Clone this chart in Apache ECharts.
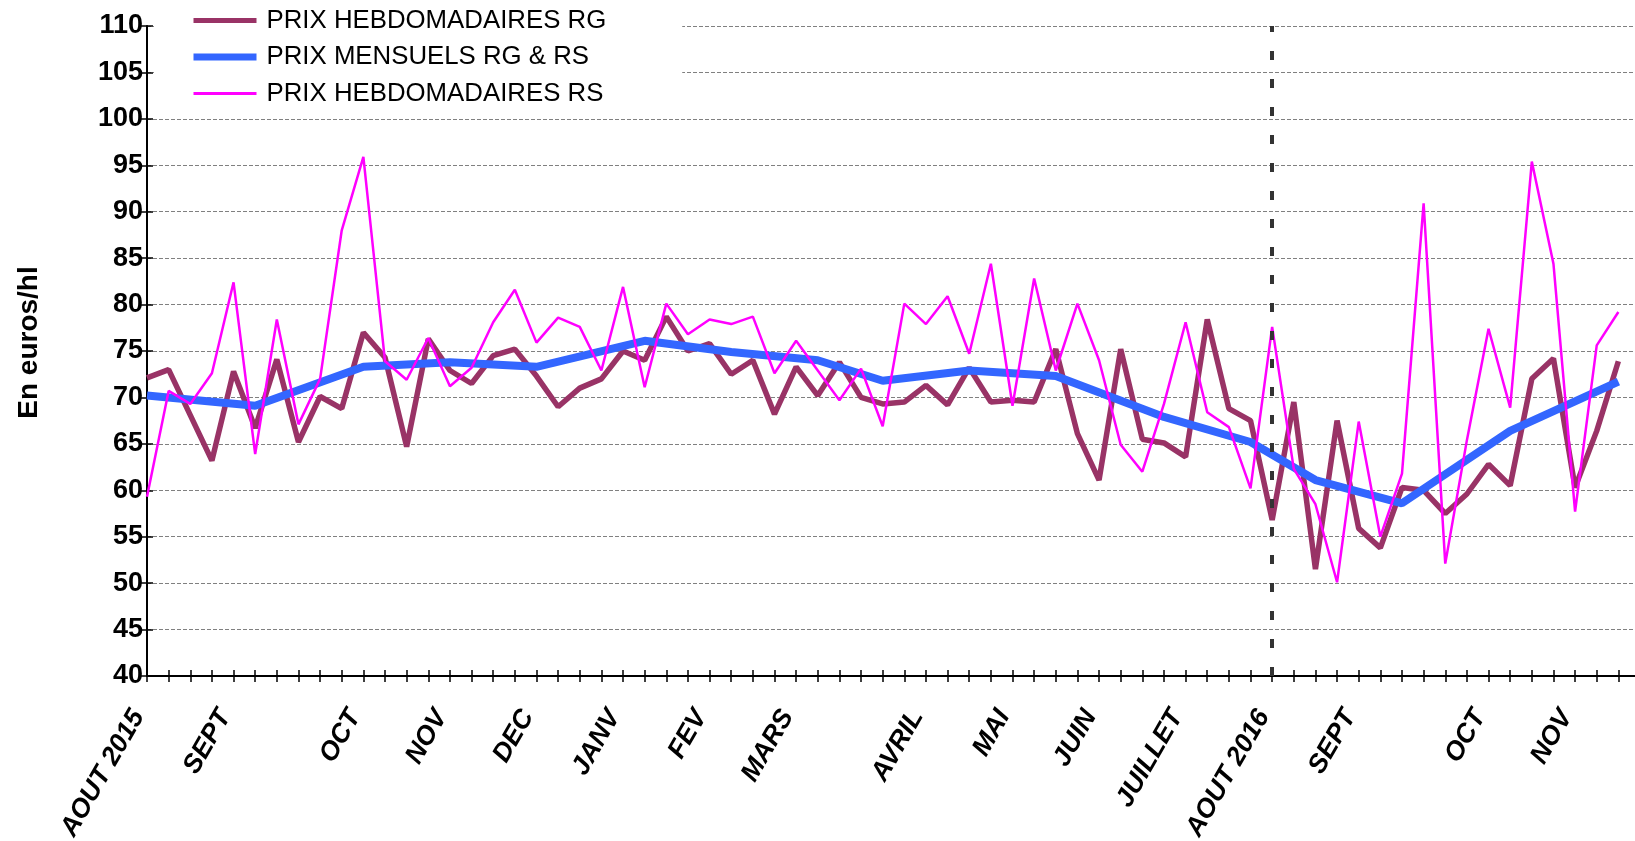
<!DOCTYPE html>
<html>
<head>
<meta charset="utf-8">
<script src="https://cdn.jsdelivr.net/npm/echarts@6/dist/echarts.min.js"></script>
<style>
  html, body { margin: 0; padding: 0; background: #fff; }
  #chart { width: 1635px; height: 841px; }
</style>
</head>
<body>
<div id="chart"></div>
<script>
// weekly prices, one value per week from Aug 2015 to Nov 2016 (69 weeks)
const rgWeekly = [
  72.1, 73.0, 68.1, 63.2, 72.8, 66.7, 74.1, 65.2, 70.1, 68.8,
  77.0, 74.3, 64.7, 76.3, 72.9, 71.5, 74.5, 75.2, 72.3, 69.0,
  71.0, 72.0, 75.0, 74.0, 78.7, 75.0, 75.8, 72.5, 74.0, 68.2,
  73.3, 70.2, 73.8, 70.0, 69.3, 69.5, 71.3, 69.2, 73.2, 69.5,
  69.7, 69.5, 75.2, 66.1, 61.1, 75.2, 65.5, 65.1, 63.6, 78.4,
  68.8, 67.5, 56.8, 69.5, 51.5, 67.5, 55.9, 53.8, 60.3, 60.0,
  57.5, 59.6, 62.8, 60.5, 72.0, 74.2, 60.3, 66.4, 73.9
];
const rsWeekly = [
  59.3, 70.7, 69.3, 72.6, 82.4, 63.9, 78.4, 67.1, 72.0, 88.0,
  95.9, 73.9, 71.9, 76.4, 71.2, 73.2, 78.1, 81.6, 75.9, 78.6,
  77.6, 72.9, 81.9, 71.1, 80.1, 76.8, 78.4, 77.9, 78.7, 72.6,
  76.1, 72.9, 69.7, 73.1, 66.9, 80.1, 77.9, 80.9, 74.7, 84.4,
  69.1, 82.8, 72.9, 80.1, 74.0, 64.9, 62.0, 69.3, 78.1, 68.4,
  66.8, 60.2, 77.6, 62.3, 58.5, 50.1, 67.4, 55.0, 61.8, 90.9,
  52.1, 65.4, 77.4, 68.9, 95.4, 84.4, 57.7, 75.6, 79.2
];
// monthly price (RG & RS), placed on the week it is plotted at
const monthlyWeek = [0, 5, 10, 14, 18, 23, 27, 31, 34, 38, 42, 47, 51, 54, 58, 63, 68];
const monthlyPrice = [70.2, 69.1, 73.3, 73.8, 73.3, 76.1, 74.9, 74.0, 71.8, 72.9, 72.3, 67.9, 65.2, 61.1, 58.6, 66.4, 71.7];

// axis labels
const labelWeek = [0, 4, 10, 14, 18, 22, 26, 30, 36, 40, 44, 48, 52, 56, 62, 66];
const labelText = ['AOUT 2015', 'SEPT', 'OCT', 'NOV', 'DEC', 'JANV', 'FEV', 'MARS',
  'AVRIL', 'MAI', 'JUIN', 'JUILLET', 'AOUT 2016', 'SEPT', 'OCT', 'NOV'];
const yearBreakWeek = 52;

const weekCount = rgWeekly.length + 1; // one spare slot so the axis runs to the edge
const weeks = [];
for (let i = 0; i < weekCount; i++) weeks.push(String(i));

const monthly = new Array(rgWeekly.length).fill(null);
monthlyWeek.forEach((w, k) => { monthly[w] = monthlyPrice[k]; });

const FONT = "'Liberation Sans', Arial, sans-serif";
const chart = echarts.init(document.getElementById('chart'));

const tickLabel = (val, idx) => {
  const k = labelWeek.indexOf(idx);
  return k >= 0 ? labelText[k] : '';
};

chart.setOption({
  animation: false,
  backgroundColor: '#fff',
  grid: { left: 147, right: -5, top: 26, bottom: 165, containLabel: false, outerBoundsMode: 'none' },
  legend: {
    orient: 'vertical',
    left: 154,
    top: 2,
    padding: [5.5, 76, 6, 36],
    backgroundColor: '#fff',
    itemWidth: 63,
    itemHeight: 14,
    itemGap: 10.5,
    itemStyle: { opacity: 0 },
    textStyle: { fontFamily: FONT, fontSize: 25.8, color: '#000', lineHeight: 25, padding: [0, 0, 0, 5] },
    data: [
      { name: 'PRIX HEBDOMADAIRES RG', lineStyle: { width: 5 } },
      { name: 'PRIX MENSUELS RG & RS', lineStyle: { width: 7 } },
      { name: 'PRIX HEBDOMADAIRES RS', lineStyle: { width: 3 } }
    ],
    z: 5
  },
  xAxis: [{
    type: 'category',
    data: weeks,
    boundaryGap: false,
    axisLine: { lineStyle: { color: '#000', width: 2 } },
    axisTick: { interval: 0, length: 6, lineStyle: { color: '#000', width: 1.5 } },
    axisLabel: {
      interval: 0, rotate: 60, margin: 41, verticalAlign: 'bottom', lineHeight: 20,
      formatter: tickLabel,
      fontFamily: FONT, fontSize: 26.5, fontWeight: 'bold', fontStyle: 'italic', color: '#000'
    },
    splitLine: { show: false }
  }, {
    type: 'category',
    data: weeks,
    boundaryGap: false,
    position: 'bottom',
    axisLine: { show: false },
    axisTick: { inside: true, interval: 0, length: 6, lineStyle: { color: '#000', width: 1.5 } },
    axisLabel: { show: false },
    splitLine: { show: false }
  }],
  yAxis: [{
    type: 'value',
    min: 40, max: 110, interval: 5,
    name: 'En euros/hl',
    nameLocation: 'middle',
    nameGap: 104,
    nameTextStyle: { fontFamily: FONT, fontSize: 28, fontWeight: 'bold', color: '#000', padding: [0, 0, 0, 17] },
    axisLine: { show: true, lineStyle: { color: '#000', width: 2 } },
    axisTick: { show: true, length: 6, lineStyle: { color: '#000', width: 1.5 } },
    axisLabel: { margin: 4, fontFamily: FONT, fontSize: 27, fontWeight: 'bold', color: '#000' },
    splitLine: { show: true, lineStyle: { color: '#808080', width: 1, type: [4, 2] } }
  }, {
    type: 'value',
    min: 40, max: 110, interval: 5,
    position: 'left',
    axisLine: { show: false },
    axisTick: { show: true, inside: true, length: 6, lineStyle: { color: '#000', width: 1.5 } },
    axisLabel: { show: false },
    splitLine: { show: false }
  }],
  series: [{
    name: 'PRIX HEBDOMADAIRES RG',
    type: 'line',
    data: rgWeekly,
    symbol: 'none',
    color: '#993366',
    lineStyle: { color: '#993366', width: 5.5 },
    z: 2
  }, {
    name: 'PRIX MENSUELS RG & RS',
    type: 'line',
    data: monthly,
    connectNulls: true,
    symbol: 'none',
    color: '#3366FF',
    lineStyle: { color: '#3366FF', width: 8 },
    z: 3
  }, {
    name: 'PRIX HEBDOMADAIRES RS',
    type: 'line',
    data: rsWeekly,
    symbol: 'none',
    color: '#FF00FF',
    lineStyle: { color: '#FF00FF', width: 2.5 },
    z: 4,
    markLine: {
      silent: true,
      symbol: 'none',
      label: { show: false },
      lineStyle: { color: '#333', width: 4, type: [9, 19] },
      data: [{ xAxis: yearBreakWeek }]
    }
  }]
});
</script>
</body>
</html>
